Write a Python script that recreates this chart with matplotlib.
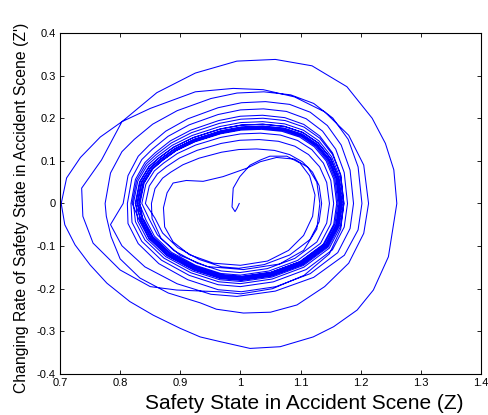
import numpy as np
import matplotlib
matplotlib.use("Agg")
import matplotlib.pyplot as plt

plt.rcParams['font.family'] = ['Liberation Sans', 'DejaVu Sans']

# start of the trajectory: hook near the centre and the first small loop
start_x = [0.998, 0.994, 0.991, 0.986, 0.988, 0.999, 1.016, 1.033, 1.049, 1.077,
           1.099, 1.115, 1.124, 1.120, 1.105, 1.080, 1.045, 1.000, 0.955, 0.915,
           0.888, 0.874, 0.872, 0.878, 0.888, 0.910, 0.938, 0.971, 1.011, 1.033,
           1.060, 1.090, 1.112, 1.127, 1.132, 1.127, 1.105, 1.065, 1.005, 0.945,
           0.900, 0.868, 0.853]
start_y = [0.000, -0.012, -0.019, -0.008, 0.036, 0.063, 0.090, 0.102, 0.111, 0.111,
           0.095, 0.065, 0.020, -0.030, -0.075, -0.110, -0.135, -0.145, -0.140, -0.120,
           -0.090, -0.055, -0.010, 0.025, 0.048, 0.054, 0.052, 0.063, 0.083, 0.098,
           0.108, 0.104, 0.085, 0.050, 0.000, -0.060, -0.110, -0.142, -0.155, -0.148,
           -0.122, -0.082, -0.035]

shape_u = [-1.0, -0.958, -0.869, -0.773, -0.63, -0.439, -0.176, 0.027, 0.236, 0.445,
           0.624, 0.773, 0.893, 0.97, 1.0, 0.97, 0.863, 0.624, 0.325, 0.027,
           -0.176, -0.439, -0.69, -0.869, -0.958]
shape_v = [0.0, 0.273, 0.464, 0.574, 0.71, 0.831, 0.94, 0.989, 1.0, 0.973,
           0.896, 0.765, 0.574, 0.328, 0.0, -0.284, -0.557, -0.795, -0.943, -1.0,
           -0.977, -0.864, -0.682, -0.455, -0.227]

# growing loops (left, right, top, bottom)
grow_left = [0.852, 0.842, 0.836, 0.832, 0.828, 0.825, 0.820]
grow_right = [1.135, 1.148, 1.155, 1.160, 1.165, 1.168, 1.172]
grow_top = [0.128, 0.150, 0.165, 0.174, 0.180, 0.186, 0.200]
grow_bottom = [-0.152, -0.162, -0.168, -0.172, -0.176, -0.180, -0.212]

# the wide excursion: out to the big loop and back in through the crossing
big_x = [0.894, 0.850, 0.800, 0.755, 0.738, 0.736, 0.769, 0.803, 0.861, 0.925,
         0.994, 1.058, 1.119, 1.177, 1.219, 1.241, 1.255, 1.260, 1.246, 1.221,
         1.194, 1.155, 1.121, 1.066, 1.016, 0.966, 0.933, 0.900, 0.855, 0.816,
         0.778, 0.750, 0.725, 0.708, 0.702, 0.711, 0.734, 0.767, 0.803, 0.850,
         0.925, 0.988, 1.038, 1.090, 1.140, 1.180, 1.205, 1.213, 1.205, 1.180,
         1.140, 1.094, 1.050, 1.005, 0.960, 0.933, 0.880, 0.833, 0.800, 0.785,
         0.777]
big_y = [-0.203, -0.195, -0.156, -0.093, -0.030, 0.036, 0.102, 0.192, 0.260, 0.306,
         0.334, 0.338, 0.323, 0.274, 0.200, 0.141, 0.079, 0.000, -0.125, -0.203,
         -0.250, -0.289, -0.313, -0.336, -0.340, -0.324, -0.313, -0.293, -0.262, -0.230,
         -0.187, -0.144, -0.097, -0.050, 0.000, 0.060, 0.108, 0.156, 0.192, 0.223,
         0.262, 0.270, 0.267, 0.250, 0.215, 0.160, 0.090, 0.000, -0.070, -0.140,
         -0.195, -0.238, -0.255, -0.257, -0.248, -0.233, -0.210, -0.175, -0.130, -0.078,
         -0.030]

# decaying loops back onto the band
decay_left = [0.775, 0.805, 0.812, 0.818, 0.822, 0.826, 0.829, 0.831, 0.833]
decay_right = [1.202, 1.188, 1.178, 1.172, 1.170, 1.168, 1.166, 1.164, 1.162]
decay_top = [0.262, 0.239, 0.222, 0.207, 0.192, 0.186, 0.182, 0.178, 0.176]
decay_bottom = [-0.218, -0.207, -0.195, -0.188, -0.183, -0.179, -0.176, -0.173, -0.171]


def loop_points(left, right, top, bottom, keep=None):
    cx = (left + right) / 2.0
    a = (right - left) / 2.0
    n = len(shape_u) if keep is None else keep
    px = [cx + u * a for u in shape_u[:n]]
    py = [v * top if v > 0 else v * abs(bottom) for v in shape_v[:n]]
    return px, py


xs = list(start_x)
ys = list(start_y)
for i in range(len(grow_left)):
    keep = 21 if i == len(grow_left) - 1 else None
    px, py = loop_points(grow_left[i], grow_right[i], grow_top[i], grow_bottom[i], keep)
    xs += px
    ys += py
xs += big_x
ys += big_y
for i in range(len(decay_left)):
    px, py = loop_points(decay_left[i], decay_right[i], decay_top[i], decay_bottom[i])
    xs += px
    ys += py

fig = plt.figure(figsize=(4.89, 4.15), dpi=100)
ax = fig.add_axes([0.1227, 0.0988, 0.861, 0.8217])
ax.plot(xs, ys, color='#0000ff', linewidth=0.75)

ax.set_xlim(0.7, 1.4)
ax.set_ylim(-0.4, 0.4)
ax.set_xticks(np.arange(0.7, 1.41, 0.1))
ax.set_xticklabels(['0.7', '0.8', '0.9', '1', '1.1', '1.2', '1.3', '1.4'])
ax.set_yticks(np.arange(-0.4, 0.41, 0.1))
ax.set_yticklabels(['-0.4', '-0.3', '-0.2', '-0.1', '0', '0.1', '0.2', '0.3', '0.4'])
ax.tick_params(direction='in', length=3, width=0.6, labelsize=8,
               top=True, right=True, pad=3)
for s in ax.spines.values():
    s.set_linewidth(0.8)

ax.set_xlabel('Safety State in Accident Scene (Z)', fontsize=15)
ax.xaxis.label.set_verticalalignment('baseline')
ax.xaxis.set_label_coords(0.58, -0.104)
ax.set_ylabel("Changing Rate of Safety State in Accident Scene (Z')", fontsize=11.3)
ax.yaxis.label.set_verticalalignment('center')
ax.yaxis.set_label_coords(-0.092, 0.487)

fig.savefig('out.png', dpi=100)
